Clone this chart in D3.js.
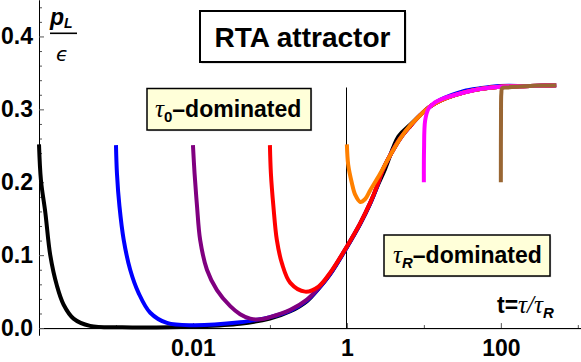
<!DOCTYPE html>
<html>
<head>
<meta charset="utf-8">
<script src="https://cdn.jsdelivr.net/npm/d3@7"></script>
<style>
  body { margin: 0; background: #fff; }
  svg { display: block; }
</style>
</head>
<body>
<svg id="chart"></svg>
<script>
// values: [t = tau/tauR, pL/eps]
var blackCurve = [
  [1.0e-4, 0.252], [1.06e-4, 0.203], [1.21e-4, 0.158], [1.40e-4, 0.100], [1.71e-4, 0.058],
  [2.09e-4, 0.032], [2.81e-4, 0.013], [4.6e-4, 0.003], [1.2e-3, 0.001], [5.0e-3, 0.001],
  [0.01, 0.002], [0.041, 0.006], [0.1, 0.013], [0.184, 0.023], [0.303, 0.037], [0.428, 0.054],
  [0.607, 0.074], [1.0, 0.111], [1.49, 0.143], [2.01, 0.171], [2.45, 0.193], [3.13, 0.218],
  [4.68, 0.263], [6.65, 0.279], [8.96, 0.292], [12.1, 0.304], [16.3, 0.312], [32.7, 0.323],
  [53.8, 0.328], [98, 0.331], [240, 0.332], [523, 0.333]
];
var blueCurve = [
  [0.001, 0.251], [0.00103, 0.212], [0.00111, 0.167], [0.00126, 0.121], [0.00153, 0.080],
  [0.00197, 0.048], [0.00279, 0.021], [0.00459, 0.007], [0.0102, 0.004], [0.041, 0.008],
  [0.0555, 0.010], [0.1, 0.015], [0.184, 0.024], [0.303, 0.038], [0.428, 0.054], [0.607, 0.074],
  [1.0, 0.111], [1.49, 0.143], [2.01, 0.171], [2.45, 0.193], [2.9, 0.216], [3.65, 0.237],
  [4.92, 0.260], [6.65, 0.277], [8.96, 0.292], [12.1, 0.304], [16.3, 0.313], [32.7, 0.325],
  [53.8, 0.329], [98, 0.332], [240, 0.332], [523, 0.333]
];
var purpleCurve = [
  [0.01, 0.251], [0.0105, 0.212], [0.0113, 0.167], [0.0124, 0.121], [0.0152, 0.080],
  [0.0205, 0.052], [0.0305, 0.030], [0.041, 0.019], [0.0555, 0.013], [0.075, 0.012],
  [0.1, 0.015], [0.184, 0.025], [0.303, 0.039], [0.428, 0.055], [0.607, 0.075], [1.0, 0.112],
  [1.49, 0.144], [2.01, 0.172], [2.45, 0.194], [2.9, 0.216], [3.65, 0.237], [4.92, 0.260],
  [6.65, 0.277], [8.96, 0.292], [12.1, 0.304], [16.3, 0.312], [32.7, 0.323], [53.8, 0.328],
  [98, 0.331], [240, 0.332], [523, 0.333]
];
var redCurve = [
  [0.1, 0.251], [0.103, 0.212], [0.111, 0.167], [0.123, 0.121], [0.143, 0.089], [0.184, 0.062],
  [0.287, 0.050], [0.428, 0.057], [0.607, 0.076], [1.0, 0.112], [1.49, 0.144], [2.01, 0.172],
  [2.45, 0.194], [2.9, 0.216], [3.65, 0.237], [4.92, 0.260], [6.65, 0.277], [8.96, 0.292],
  [12.1, 0.304], [16.3, 0.312], [32.7, 0.323], [53.8, 0.328], [98, 0.331], [240, 0.332],
  [523, 0.333]
];
var orangeCurve = [
  [1.0, 0.252], [1.04, 0.224], [1.16, 0.199], [1.28, 0.183], [1.49, 0.173], [1.73, 0.177],
  [2.01, 0.189], [2.71, 0.212], [3.65, 0.237], [4.92, 0.260], [6.65, 0.278], [8.96, 0.292],
  [12.1, 0.304], [16.3, 0.312], [32.7, 0.323], [53.8, 0.328], [98, 0.331], [240, 0.332],
  [523, 0.333]
];
var magentaCurve = [
  [10, 0.200], [10.05, 0.244], [10.4, 0.285], [11.5, 0.301], [13.3, 0.308], [18, 0.315],
  [32.7, 0.323], [53.8, 0.328], [98, 0.331], [240, 0.332], [523, 0.333]
];
var brownCurve = [
  [100, 0.200], [100.5, 0.290], [101.5, 0.322], [104, 0.329], [120, 0.330], [240, 0.332],
  [523, 0.333]
];

var xMajor = [0.01, 1, 100],
    xMinor = [0.001, 0.1, 10, 1000],
    yMajor = [0, 0.1, 0.2, 0.3, 0.4],
    yMinor = [0.02, 0.04, 0.06, 0.08, 0.12, 0.14, 0.16, 0.18, 0.22, 0.24, 0.26, 0.28,
              0.32, 0.34, 0.36, 0.38, 0.42, 0.44];

var width = 581, height = 362;
var sans = "'Liberation Sans', Arial, sans-serif",
    serif = "'Liberation Serif', 'DejaVu Serif', serif";

var svg = d3.select("#chart").attr("width", width).attr("height", height);

var x = d3.scaleLog().domain([1e-4, 1100]).range([39, 581]);
var y = d3.scaleLinear().domain([-0.0095, 0.45]).range([335, 0]);

// thin marker line at t = 1
svg.append("line")
    .attr("x1", Math.floor(x(1)) + 0.5).attr("x2", Math.floor(x(1)) + 0.5)
    .attr("y1", y(0)).attr("y2", y(0.33))
    .attr("stroke", "#000").attr("stroke-width", 1);

// axes
var xMinorAxis = svg.append("g")
    .attr("transform", "translate(0," + y(0) + ")")
    .call(d3.axisBottom(x).tickValues(xMinor).tickSizeInner(-3).tickSizeOuter(0).tickFormat(""));
var xAxis = svg.append("g")
    .attr("transform", "translate(0," + y(0) + ")")
    .call(d3.axisBottom(x).tickValues(xMajor).tickSizeInner(-5).tickSizeOuter(0).tickPadding(12)
        .tickFormat(function(d) { return d < 1 ? d3.format(".2f")(d) : d3.format("d")(d); }));
var yMinorAxis = svg.append("g")
    .attr("transform", "translate(" + x(1e-4) + ",0)")
    .call(d3.axisLeft(y).tickValues(yMinor).tickSizeInner(-3).tickSizeOuter(0).tickFormat(""));
var yAxis = svg.append("g")
    .attr("transform", "translate(" + x(1e-4) + ",0)")
    .call(d3.axisLeft(y).tickValues(yMajor).tickSizeInner(-5).tickSizeOuter(0).tickPadding(6)
        .tickFormat(d3.format(".1f")));

svg.selectAll(".domain").attr("stroke", "#000").attr("stroke-width", 1);
svg.selectAll(".tick line").attr("stroke", "#555").attr("stroke-width", 1);
[xAxis, yAxis].forEach(function(g) {
  g.selectAll("text")
    .style("font-family", sans).style("font-weight", "bold").style("font-size", "23px")
    .attr("fill", "#000");
});

// curves
var line = d3.line()
    .x(function(d) { return x(d[0]); })
    .y(function(d) { return y(d[1]); })
    .curve(d3.curveCatmullRom.alpha(0.5));

var series = [
  { data: blackCurve, color: "#000000" },
  { data: blueCurve, color: "#0000ff" },
  { data: purpleCurve, color: "#800080" },
  { data: redCurve, color: "#ff0000" },
  { data: orangeCurve, color: "#ff8000" },
  { data: magentaCurve, color: "#ff00ff" },
  { data: brownCurve, color: "#996633" }
];

svg.selectAll(".curve")
    .data(series)
    .enter().append("path")
    .attr("class", "curve")
    .attr("d", function(d) { return line(d.data); })
    .attr("fill", "none")
    .attr("stroke", function(d) { return d.color; })
    .attr("stroke-width", 4)
    .attr("stroke-linejoin", "round");

// title box
svg.append("rect").attr("x", 201.5).attr("y", 12.5).attr("width", 205).attr("height", 51)
    .attr("fill", "#c8c8c8");
svg.append("rect").attr("x", 200).attr("y", 11).attr("width", 205).attr("height", 51)
    .attr("fill", "#fff").attr("stroke", "#000").attr("stroke-width", 2);
svg.append("text").attr("x", 302.5).attr("y", 47)
    .attr("text-anchor", "middle")
    .style("font-family", sans).style("font-weight", "bold").style("font-size", "28px")
    .text("RTA attractor");

// annotation boxes
function noteBox(bx, by, bw, bh, tx, ty, sub) {
  svg.append("rect").attr("x", bx + 1.2).attr("y", by + 1.2).attr("width", bw).attr("height", bh)
      .attr("fill", "#c8c8c8");
  svg.append("rect").attr("x", bx).attr("y", by).attr("width", bw).attr("height", bh)
      .attr("fill", "#ffffd9").attr("stroke", "#000").attr("stroke-width", 1.5);
  var t = svg.append("text").attr("x", tx).attr("y", ty)
      .style("font-family", sans).style("font-size", "23px");
  t.append("tspan").style("font-family", serif).style("font-style", "italic").style("font-size", "25px").text("τ");
  t.append("tspan").attr("dy", 5).style("font-size", "15px")
      .style("font-style", sub === "R" ? "italic" : "normal")
      .style("font-weight", "bold").text(sub);
  t.append("tspan").attr("dy", -5).style("font-weight", "bold").text("–dominated");
}
noteBox(147, 88.5, 164, 41.5, 155, 117, "0");
noteBox(384, 235, 166, 41, 393, 263, "R");

// x axis label
var xl = svg.append("text").attr("x", 497).attr("y", 313)
    .style("font-family", sans).style("font-size", "23px");
xl.append("tspan").style("font-weight", "bold").text("t=");
xl.append("tspan").style("font-family", serif).style("font-style", "italic").style("font-size", "25px").text("τ/τ");
xl.append("tspan").attr("dy", 5).style("font-weight", "bold").style("font-style", "italic")
    .style("font-size", "15px").text("R");

// y axis label
svg.append("text").attr("x", 50).attr("y", 25)
    .style("font-family", sans).style("font-weight", "bold").style("font-style", "italic")
    .style("font-size", "23px").text("p");
svg.append("text").attr("x", 64).attr("y", 28)
    .style("font-family", sans).style("font-weight", "bold").style("font-style", "italic")
    .style("font-size", "14px").text("L");
svg.append("line").attr("x1", 50).attr("x2", 77).attr("y1", 33.3).attr("y2", 33.3)
    .attr("stroke", "#000").attr("stroke-width", 1.6);
svg.append("text").attr("x", 56).attr("y", 61)
    .style("font-family", "'DejaVu Sans', sans-serif").style("font-style", "italic")
    .style("font-size", "20px").text("ϵ");
</script>
</body>
</html>
